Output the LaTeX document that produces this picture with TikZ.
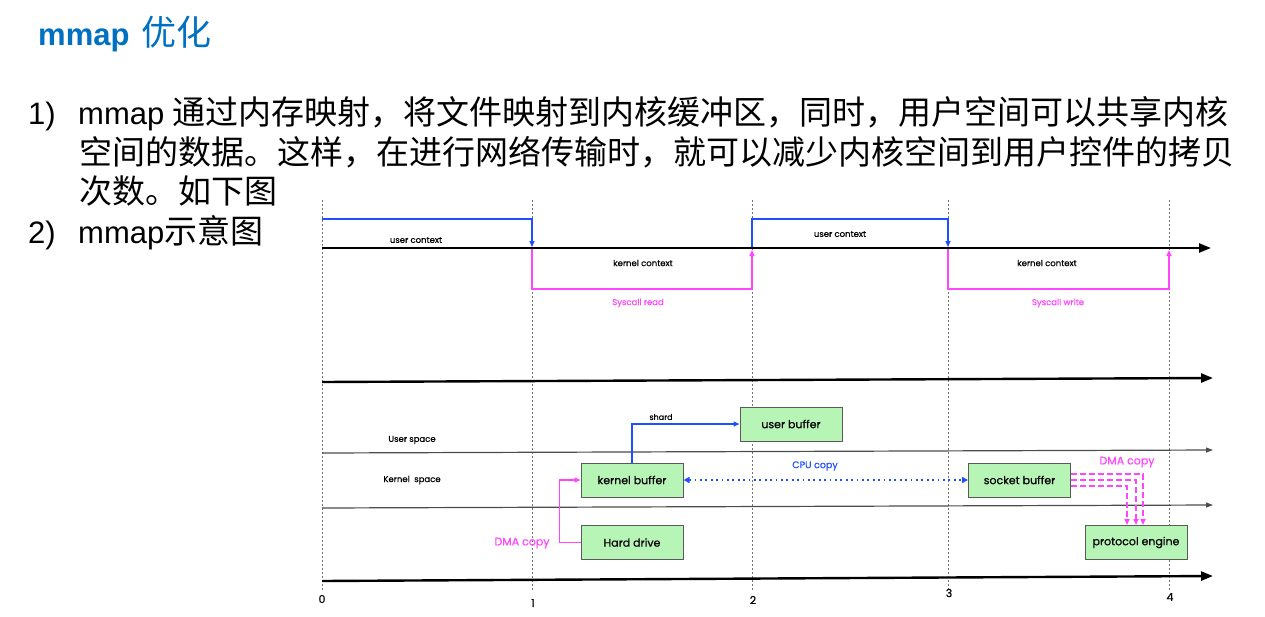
\documentclass[tikz,border=0pt]{standalone}
\usepackage{fontspec}
\setmainfont{Liberation Sans}
\newfontfamily\cjk{Noto Sans CJK SC}
\newfontfamily\geo{Poppins}[FakeBold=0.5]
\usetikzlibrary{arrows.meta}
\definecolor{ttlblue}{RGB}{0,112,192}
\definecolor{ublue}{RGB}{30,80,255}
\definecolor{kpink}{RGB}{255,70,255}
\definecolor{boxgreen}{RGB}{183,245,183}
\definecolor{boxline}{RGB}{90,90,90}
\begin{document}
\begin{tikzpicture}[x=1pt,y=-1pt,
  body/.style={anchor=base west,inner sep=0pt,font=\fontsize{31}{31}\selectfont},
  cjkt/.style={font=\cjk\fontsize{33}{33}\selectfont},
  vgrid/.style={draw=black!55,line width=0.8pt,dash pattern=on 2pt off 2pt},
  bigaxis/.style={draw=black,line width=2.4pt,-{Triangle[length=12pt,width=9pt]}},
  thinaxis/.style={draw=black!70,line width=1.2pt,-{Triangle[length=7pt,width=5pt]}},
  ctxline/.style={line width=1.4pt,-{Triangle[length=6pt,width=5pt]}},
  lbl/.style={inner sep=0pt,font=\geo\fontsize{8.5}{9}\selectfont},
  boxlbl/.style={font=\geo\fontsize{11}{11}\selectfont},
  gbox/.style={draw=boxline,fill=boxgreen,line width=1pt,minimum width=102pt,minimum height=34pt,inner sep=0pt,boxlbl},
  num/.style={inner sep=0pt,font=\geo\fontsize{11}{11}\selectfont},
  dma/.style={draw=kpink,line width=2pt,dash pattern=on 6pt off 3pt,-{Triangle[length=6pt,width=5pt]}}
]
\useasboundingbox (0,0) rectangle (1265,616);

% title and text
\node[anchor=base west,inner sep=0pt,text=ttlblue] (title) at (38,45)
  {\fontsize{31}{31}\selectfont\bfseries mmap\hspace{12pt}{\cjk\mdseries\fontsize{35}{35}\selectfont 优化}};
\node[body] (n1) at (28,124) {1)};
\node[body] (l1) at (78,124) {mmap\hspace{8pt}{\cjk\fontsize{33}{33}\selectfont 通过内存映射，将文件映射到内核缓冲区，同时，用户空间可以共享内核}};
\node[body,cjkt] (l2) at (79,164) {空间的数据。这样，在进行网络传输时，就可以减少内核空间到用户控件的拷贝};
\node[body,cjkt] (l3) at (79,203) {次数。如下图};
\node[body] (n2) at (28,243) {2)};
\node[body] (l4) at (78,243) {mmap{\cjk\fontsize{33}{33}\selectfont 示意图}};

% vertical grid lines
\foreach \i/\x in {0/322,1/532,2/752,3/948,4/1169}{
  \coordinate (gt\i) at (\x,200);
  \coordinate (gb\i) at (\x,590);
  \draw[vgrid] (gt\i) -- (gb\i);
}
\node[num] (lab0) at (322,599) {0};
\node[num] (lab1) at (533,603) {1};
\node[num] (lab2) at (753,600) {2};
\node[num] (lab3) at (949,593) {3};
\node[num] (lab4) at (1170,597) {4};

% top timeline
\coordinate (ax1s) at (322,248);
\coordinate (ax1e) at (1211,248);
\draw[bigaxis] (ax1s) -- (ax1e);
\coordinate (u0) at (322,219);
\coordinate (k1) at (532,247);
\coordinate (k1b) at (532,249);
\coordinate (p1) at (752,289);
\coordinate (k2) at (752,250);
\coordinate (k2b) at (752,247);
\coordinate (u2) at (948,219);
\coordinate (k3) at (948,247);
\coordinate (k3b) at (948,249);
\coordinate (p2) at (1169,289);
\coordinate (k4) at (1169,250);
\draw[ctxline,ublue] (u0) -| (k1);
\draw[ctxline,kpink] (k1b) |- (p1) -- (k2);
\draw[ctxline,ublue] (k2b) |- (u2) -- (k3);
\draw[ctxline,kpink] (k3b) |- (p2) -- (k4);
\node[lbl] (uc1) at (416,240) {user context};
\node[lbl] (kc1) at (643,263) {kernel context};
\node[lbl,text=kpink] (sr) at (638,303) {Syscall read};
\node[lbl] (uc2) at (840,234) {user context};
\node[lbl] (kc2) at (1047,263) {kernel context};
\node[lbl,text=kpink] (sw) at (1058,303) {Syscall write};

% second axis
\coordinate (ax2s) at (322,382);
\coordinate (ax2e) at (1213,378);
\draw[bigaxis] (ax2s) -- (ax2e);

% space separators
\coordinate (s1s) at (322,453);
\coordinate (s1e) at (1213,450);
\draw[thinaxis] (s1s) -- (s1e);
\coordinate (s2s) at (322,508);
\coordinate (s2e) at (1213,505);
\draw[thinaxis] (s2s) -- (s2e);
\node[lbl] (us) at (412,440) {User space};
\node[lbl] (ks) at (412,480) {Kernel\ \ space};

% bottom axis
\coordinate (ax3s) at (322,581);
\coordinate (ax3e) at (1213,576);
\draw[bigaxis] (ax3s) -- (ax3e);

% boxes
\node[gbox] (ub) at (791,424) {user buffer};
\node[gbox] (kb) at (632,480) {kernel buffer};
\node[gbox] (hd) at (632,542.5) {Hard drive};
\node[gbox] (sb) at (1019.5,480) {socket buffer};
\node[gbox] (pe) at (1136,542.5) {protocol engine};

% connectors
\draw[ctxline,ublue] (kb.north) |- (ub.west);
\node[lbl,font=\geo\fontsize{8}{8}\selectfont] (shard) at (661,417) {shard};

\draw[ctxline,kpink] (hd.west) -- ++(-21,0) |- (kb.west);
\node[inner sep=0pt,text=kpink,font=\geo\fontsize{11}{11}\selectfont] (dmal) at (522,543) {DMA copy};

\draw[ublue,line width=1.8pt,dash pattern=on 1.8pt off 3.6pt,{Triangle[length=6pt,width=6pt]}-{Triangle[length=6pt,width=6pt]}] (kb.east) -- (sb.west);
\node[inner sep=0pt,text=ublue,font=\geo\fontsize{9.5}{10}\selectfont] (cpu) at (815,466) {CPU copy};

\draw[dma] ([yshift=6pt]sb.east) -| ([xshift=7pt]pe.north);
\draw[dma] (sb.east) -| (pe.north);
\draw[dma] ([yshift=-6pt]sb.east) -| ([xshift=-9pt]pe.north);
\node[inner sep=0pt,text=kpink,font=\geo\fontsize{11}{11}\selectfont] (dmar) at (1127,462) {DMA copy};
\end{tikzpicture}
\end{document}
